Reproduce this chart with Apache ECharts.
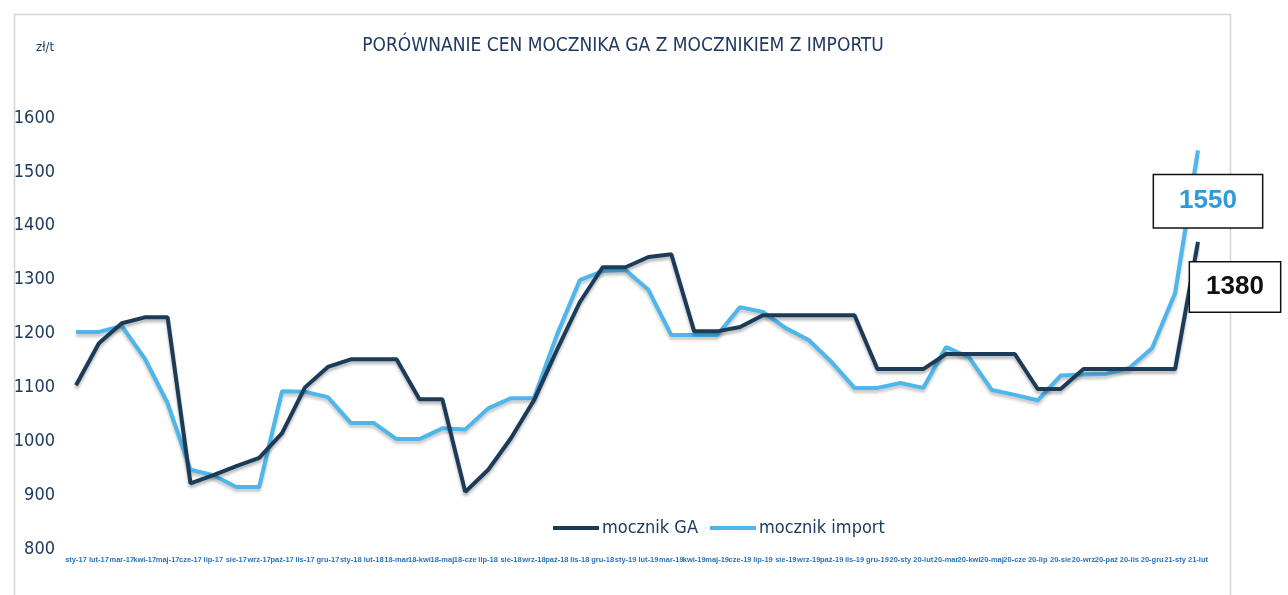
<!DOCTYPE html>
<html>
<head>
<meta charset="utf-8">
<script src="https://cdn.jsdelivr.net/npm/echarts@6/dist/echarts.min.js"></script>
<style>
html,body{margin:0;padding:0;background:#fff;}
#c{width:1288px;height:595px;}
</style>
</head>
<body>
<div id="c"></div>
<script>
const categories = ["sty-17","lut-17","mar-17","kwi-17","maj-17","cze-17","lip-17","sie-17","wrz-17","paź-17","lis-17","gru-17",
"sty-18","lut-18","18-mar","18-kwi","18-maj","18-cze","lip-18","sie-18","wrz-18","paź-18","lis-18","gru-18",
"sty-19","lut-19","mar-19","kwi-19","maj-19","cze-19","lip-19","sie-19","wrz-19","paź-19","lis-19","gru-19",
"20-sty","20-lut","20-mar","20-kwi","20-maj","20-cze","20-lip","20-sie","20-wrz","20-paź","20-lis","20-gru",
"21-sty","21-lut"];

const mocznikGA = [1104,1182,1219,1230,1230,922,937,954,969,1015,1100,1138,
1152,1152,1152,1078,1078,906,947,1006,1076,1169,1258,1323,
1323,1342,1347,1204,1204,1212,1234,1234,1234,1234,1234,1134,
1134,1134,1162,1162,1162,1162,1097,1097,1134,1134,1134,1134,
1134,1370];

const mocznikImport = [1203,1203,1214,1154,1071,947,937,915,915,1093,1092,1082,
1034,1034,1004,1004,1024,1022,1061,1080,1080,1197,1299,1316,
1318,1281,1197,1197,1197,1249,1240,1210,1188,1147,1099,1099,
1108,1099,1175,1156,1095,1086,1076,1122,1124,1125,1136,1173,
1275,1540];

const yTicks = {min: 800, max: 1600, interval: 100};
const labelGA = '1380';
const labelImport = '1550';

const NARROW = "'DejaVu Sans Condensed','Liberation Sans Narrow',sans-serif";
const SANS = "'Liberation Sans',sans-serif";
const colGA = '#1B3B58';
const colImp = '#4DB6EC';

const chart = echarts.init(document.getElementById('c'), null, {renderer:'canvas'});
const last = categories.length - 1;

chart.setOption({
  backgroundColor: '#fff',
  animation: false,
  title: {
    text: 'PORÓWNANIE CEN MOCZNIKA GA Z MOCZNIKIEM Z IMPORTU',
    left: 618, top: 32, textAlign: 'center',
    textStyle: {fontFamily: NARROW, fontSize: 19, fontWeight: 'normal', color: '#1F3A60'}
  },
  graphic: [{
    type: 'rect', left: 12, top: 12, silent: true,
    shape: {width: 1216, height: 600},
    style: {fill: 'none', stroke: '#d4d4d4', lineWidth: 1.5}
  }],
  legend: {
    data: ['mocznik GA', 'mocznik import'],
    left: 548, top: 514,
    icon: 'rect', itemWidth: 46, itemHeight: 4, itemGap: 12,
    textStyle: {fontFamily: NARROW, fontSize: 18, color: '#1F3A60', padding: [0,0,0,-2]}
  },
  grid: {left: 76, right: 90, top: 118, bottom: 46, containLabel: false},
  xAxis: {
    type: 'category', data: categories, boundaryGap: false,
    axisLine: {show: false}, axisTick: {show: false}, splitLine: {show: false},
    axisLabel: {interval: 0, margin: 7, fontFamily: SANS, fontSize: 7.5, fontWeight: 'bold', color: '#2B74BA', hideOverlap: false}
  },
  yAxis: {
    type: 'value', min: yTicks.min, max: yTicks.max, interval: yTicks.interval,
    name: 'zł/t', nameLocation: 'end', nameGap: 64,
    nameTextStyle: {fontFamily: NARROW, fontSize: 13, color: '#1F3A60', align: 'right', padding: [0, 22, 0, 0]},
    axisLine: {show: false}, axisTick: {show: false}, splitLine: {show: false},
    axisLabel: {margin: 21, fontFamily: NARROW, fontSize: 18, color: '#1F3A60', formatter: v => String(v)}
  },
  series: [
    {
      name: 'mocznik GA', type: 'line', data: mocznikGA, symbol: 'none', smooth: false,
      color: colGA,
      lineStyle: {width: 4, color: colGA, shadowColor: 'rgba(0,0,0,0.28)', shadowBlur: 3, shadowOffsetY: 3},
      z: 3,
      markPoint: {
        symbol: 'rect', symbolSize: 0,
        data: [{coord: [last, mocznikGA[last]]}],
        label: {
          show: true, formatter: labelGA, offset: [37, 45],
          fontFamily: SANS, fontSize: 26, fontWeight: 'bold', color: '#111',
          backgroundColor: '#fff', borderColor: '#111', borderWidth: 1.5,
          padding: [10, 16, 9, 16], lineHeight: 30
        }
      }
    },
    {
      name: 'mocznik import', type: 'line', data: mocznikImport, symbol: 'none', smooth: false,
      color: colImp,
      lineStyle: {width: 4, color: colImp, shadowColor: 'rgba(0,0,0,0.22)', shadowBlur: 3, shadowOffsetY: 3},
      z: 2,
      markPoint: {
        symbol: 'rect', symbolSize: 0,
        data: [{coord: [last, mocznikImport[last]]}],
        label: {
          show: true, formatter: labelImport, offset: [10, 51],
          fontFamily: SANS, fontSize: 26, fontWeight: 'bold', color: '#2E9BDB',
          backgroundColor: '#fff', borderColor: '#111', borderWidth: 1.5,
          padding: [11, 25, 11, 25], lineHeight: 30
        }
      }
    }
  ]
});
</script>
</body>
</html>
